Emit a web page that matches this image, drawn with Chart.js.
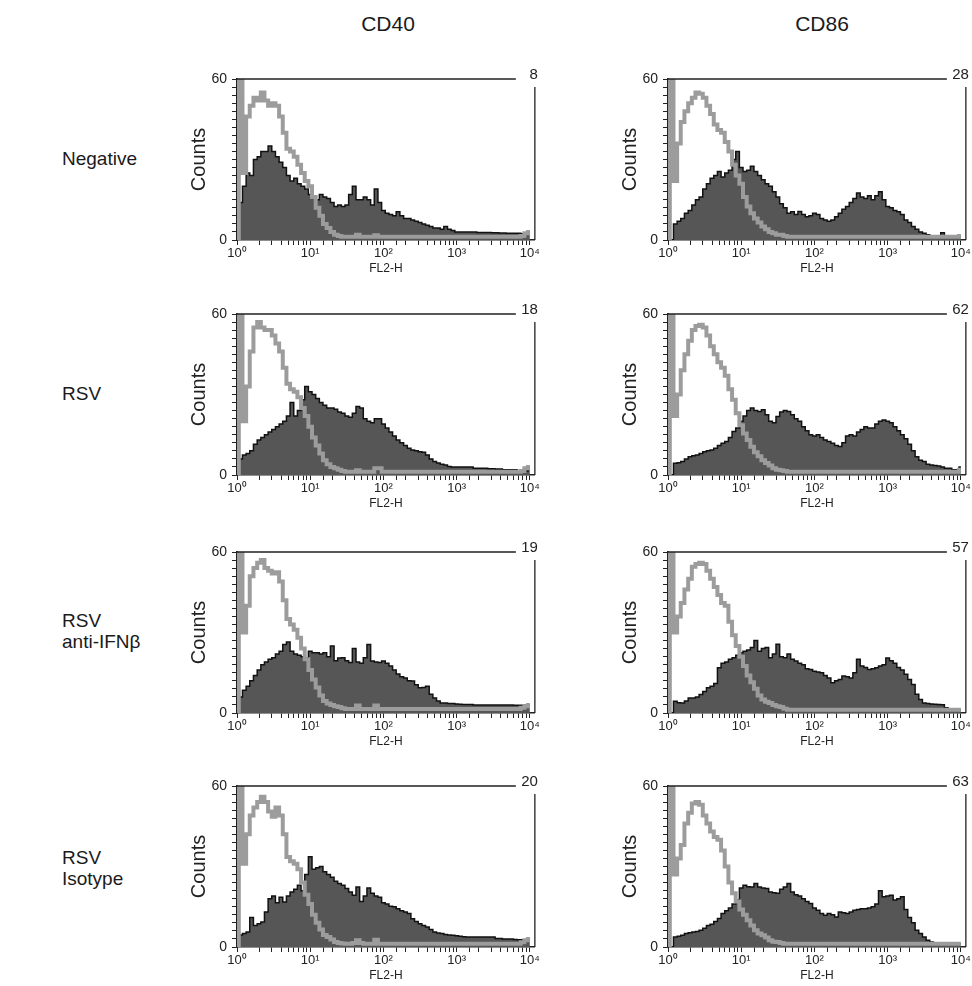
<!DOCTYPE html>
<html>
<head>
<meta charset="utf-8">
<script src="https://cdn.jsdelivr.net/npm/chart.js@4"></script>
<style>
  body { margin: 0; width: 972px; height: 986px; position: relative; overflow: hidden; background: #fff;
         font-family: "Liberation Sans", Arial, sans-serif; color: #1a1a1a; }
  .col { position: absolute; top: 12px; font-size: 21px; transform: translateX(-50%); }
  .row { position: absolute; left: 62px; font-size: 19px; line-height: 21px; }
  canvas { position: absolute; }
</style>
</head>
<body>
<div class="col" style="left:388px">CD40</div>
<div class="col" style="left:822px">CD86</div>

<div class="row" style="top:148px">Negative</div>
<div class="row" style="top:383px">RSV</div>
<div class="row" style="top:610px">RSV<br>anti-IFNβ</div>
<div class="row" style="top:847px">RSV<br>Isotype</div>

<canvas id="c40neg" width="361" height="216" style="left:180px;top:64px"></canvas>
<canvas id="c86neg" width="361" height="216" style="left:611px;top:64px"></canvas>
<canvas id="c40rsv" width="361" height="216" style="left:180px;top:299px"></canvas>
<canvas id="c86rsv" width="361" height="216" style="left:611px;top:299px"></canvas>
<canvas id="c40anti" width="361" height="216" style="left:180px;top:537px"></canvas>
<canvas id="c86anti" width="361" height="216" style="left:611px;top:537px"></canvas>
<canvas id="c40iso" width="361" height="216" style="left:180px;top:771px"></canvas>
<canvas id="c86iso" width="361" height="216" style="left:611px;top:771px"></canvas>

<script>
// FL2-H channel positions (shared by every histogram)
const channels = [
  1, 1.12, 1.26, 1.41, 1.58, 1.78, 2.0, 2.24, 2.51, 2.82,
  3.16, 3.55, 3.98, 4.47, 5.01, 5.62, 6.31, 7.08, 7.94, 8.91,
  10, 11.2, 12.6, 14.1, 15.8, 17.8, 20.0, 22.4, 25.1, 28.2,
  31.6, 35.5, 39.8, 44.7, 50.1, 56.2, 63.1, 70.8, 79.4, 89.1,
  100, 112, 126, 141, 158, 178, 200, 224, 251, 282,
  316, 355, 398, 447, 501, 562, 631, 708, 794, 891,
  1000, 1122, 1259, 1413, 1585, 1778, 1995, 2239, 2512, 2818,
  3162, 3548, 3981, 4467, 5012, 5623, 6310, 7079, 7943, 8913,
  10000
];
const decadeLabels = ["10⁰", "10¹", "10²", "10³", "10⁴"];
const percentCD40 = ["8", "18", "19", "20"];
const percentCD86 = ["28", "62", "57", "63"];

// CD40 - Negative
const ctrlCD40Neg = [
  0, 60, 25, 46, 50, 53, 52, 55, 52, 50,
  51, 50, 46, 40, 34, 33, 31, 28, 25, 22,
  20, 16, 12, 9, 6, 4.5, 3, 2, 1.5, 1.2,
  1.2, 1.2, 1.2, 2, 1.2, 1.2, 1.2, 1.2, 1.8, 1.2,
  1.2, 1.2, 1.2, 1.2, 1.2, 1.2, 1.2, 1.2, 1.2, 1.2,
  1.2, 1.2, 1.2, 1.2, 1.2, 1.2, 1.2, 1.2, 1.2, 1.2,
  1.2, 1.2, 1.2, 1.2, 1.2, 1.2, 1.2, 1.2, 1.2, 1.2,
  1.2, 1.2, 1.2, 1.2, 1.2, 1.2, 1.2, 1.2, 1.5, 2.5,
  3
];
const stainCD40Neg = [
  0, 14, 20, 25, 24, 30, 31, 33, 33, 35,
  33, 31, 29, 27, 24, 22, 23, 21, 20, 19,
  17, 16, 15, 17, 16, 15.5, 14, 12.5, 13, 12.5,
  13, 17, 20, 15, 15, 16, 15, 13, 19, 14,
  11, 10, 9.5, 9, 10.5, 9, 8, 8, 7.5, 7,
  6.5, 6, 5.5, 5, 4.5, 4.5, 4, 5, 4, 3.5,
  3, 3, 3, 3, 3, 3, 2.8, 2.8, 2.8, 2.8,
  2.7, 2.7, 2.6, 2.6, 2.5, 2.5, 2.5, 2.5, 2.3, 2.5,
  3
];

// CD86 - Negative
const ctrlCD86Neg = [
  0, 60, 22, 36, 44, 48, 51, 53, 55, 54.5,
  53, 50, 47, 43, 41, 40, 36.5, 33, 28, 24,
  21, 16, 12.5, 10, 8, 6.5, 5, 4, 3, 2.5,
  2, 2, 1.5, 1.2, 1.2, 1.2, 1.2, 1.2, 1.2, 1.2,
  1.2, 1.2, 1.2, 1.2, 1.2, 1.2, 1.2, 1.2, 1.2, 1.2,
  1.2, 1.2, 1.2, 1.2, 1.2, 1.2, 1.2, 1.2, 1.2, 1.2,
  1.2, 1.2, 1.2, 1.2, 1.2, 1.2, 1.2, 1.2, 1.2, 1.2,
  1.2, 1.2, 1.2, 1.2, 1.2, 1.2, 1.2, 1.2, 1.2, 1.2,
  1.5
];
const stainCD86Neg = [
  0, 0, 6, 7, 8, 10, 11, 13, 15, 16,
  19, 21, 23, 24, 25.5, 23.5, 25, 26, 30, 33,
  27, 25.5, 26, 27.5, 25.5, 24, 22.5, 21, 20, 18,
  16, 13.5, 12, 10, 10.5, 9.5, 10.6, 9.5, 8.7, 9,
  10, 9.5, 8, 7.5, 7, 7.5, 8.7, 10, 11.5, 12.5,
  14, 15.5, 17.5, 16, 15.5, 16.5, 15, 16.5, 18, 15,
  12.5, 12, 11, 10.5, 9.5, 7.5, 6.5, 5, 4, 3,
  2.5, 2, 1.5, 1.5, 1.5, 2.7, 1.5, 1.5, 1.5, 1.5,
  1.5
];

// CD40 - RSV
const ctrlCD40RSV = [
  0, 60, 20, 33, 46, 55, 57, 55, 54, 54,
  52, 49, 46, 40, 34, 32, 31, 29, 25, 22,
  18, 14, 11, 8, 5.5, 4, 3, 2.5, 2, 1.5,
  1.2, 1.2, 1.2, 1.8, 1.2, 1.2, 1.2, 1.2, 2.5, 2.5,
  1.2, 1.2, 1.2, 1.2, 1.2, 1.2, 1.2, 1.2, 1.2, 1.2,
  1.2, 1.2, 1.2, 1.2, 1.2, 1.2, 1.2, 1.2, 1.2, 1.2,
  1.2, 1.2, 1.2, 1.2, 1.2, 1.2, 1.2, 1.2, 1.2, 1.2,
  1.2, 1.2, 1.2, 1.2, 1.2, 1.2, 1.2, 1.2, 1.5, 2.5,
  3
];
const stainCD40RSV = [
  0, 6, 7.5, 8, 9, 11.5, 13, 14, 15, 16,
  17, 18, 19, 20, 22, 27, 22, 24, 28, 33,
  31, 30, 28.5, 27, 26, 25, 25, 24.5, 23.5, 23,
  22, 21.5, 23, 25.5, 25, 21, 20, 19.5, 21, 21,
  19, 17.5, 16, 14.5, 13, 12, 11, 10, 9.3, 9,
  8.7, 8.5, 7.5, 6, 5, 4.5, 4, 3.7, 3.2, 3,
  3, 3, 3, 3, 3, 2.5, 2.5, 2.5, 2.5, 2.3,
  2.3, 2.2, 2.2, 2, 2, 2, 2, 1.5, 1.3, 1.5,
  3
];

// CD86 - RSV
const ctrlCD86RSV = [
  0, 60, 22, 30, 39, 45, 50, 54, 55.5, 56,
  55, 52, 48, 45, 42, 40, 37, 32, 28, 23,
  18.5, 15.5, 13, 10.5, 8.5, 7, 5.5, 4.5, 3.5, 2.5,
  2, 1.8, 1.5, 1.2, 1.2, 1.2, 1.2, 1.2, 1.2, 1.2,
  1.2, 1.2, 1.2, 1.2, 1.2, 1.2, 1.2, 1.2, 1.2, 1.2,
  1.2, 1.2, 1.2, 1.2, 1.2, 1.2, 1.2, 1.2, 1.2, 1.2,
  1.2, 1.2, 1.2, 1.2, 1.2, 1.2, 1.2, 1.2, 1.2, 1.2,
  1.2, 1.2, 1.2, 1.2, 1.2, 1.2, 1.2, 1.2, 1.2, 1.2,
  2
];
const stainCD86RSV = [
  0, 0, 4.4, 4.6, 5, 6, 6.8, 7.2, 7.5, 8,
  8.7, 9, 9.3, 10, 11, 11.8, 12.5, 14, 16.2, 17.5,
  20, 22, 24, 25, 24, 23.7, 24.3, 22.5, 20, 19.5,
  21.8, 23.5, 24, 23.7, 22.5, 21, 20, 18, 16.5, 15,
  14.5, 15, 14, 13, 12.5, 11.8, 11, 10.6, 12, 14.5,
  15, 14.5, 16, 17, 18, 17.5, 17.5, 19, 20, 20.5,
  20, 19.5, 18, 16.5, 15, 13.5, 11.5, 9, 6.8, 5.5,
  5, 4, 3.7, 3.5, 3.4, 3, 2.5, 2.5, 2, 2,
  3
];

// CD40 - RSV anti-IFNb
const ctrlCD40Anti = [
  0, 60, 30, 40, 51, 54, 56, 57, 54, 53,
  52, 52.5, 49, 42, 35, 33, 31, 28, 24, 20,
  16, 12.5, 9.5, 6.5, 4.5, 3.5, 3, 2.5, 2.2, 1.8,
  1.5, 1.5, 1.5, 2.8, 1.5, 1.5, 1.5, 1.5, 2.8, 1.5,
  1.5, 1.5, 1.5, 1.5, 1.5, 1.5, 1.5, 1.5, 1.5, 1.5,
  1.5, 1.5, 1.5, 1.5, 1.5, 1.5, 1.5, 1.5, 1.5, 1.5,
  1.5, 1.5, 1.5, 1.5, 1.5, 1.5, 1.5, 1.5, 1.5, 1.5,
  1.5, 1.5, 1.5, 1.5, 1.5, 1.5, 1.5, 1.5, 2, 2.5,
  3
];
const stainCD40Anti = [
  0, 6, 8.5, 10, 12, 14, 16, 18, 19, 20,
  20.6, 22, 23, 25.5, 26.5, 23, 22, 21.5, 21, 20.6,
  23, 22.5, 22.5, 22, 22.5, 21, 25, 19.5, 20.5, 20.6,
  19.5, 18.8, 24, 19, 18.5, 20.6, 25.5, 19.4, 19, 18.8,
  19.4, 18.5, 17.5, 16, 14.5, 13.5, 13, 12, 11.9, 10.5,
  9.4, 9.5, 10, 7, 5.6, 4.5, 3.7, 3.7, 3.5, 3.5,
  3.4, 3.3, 3.2, 3.2, 3.2, 3, 3, 3, 3, 3,
  3, 3, 3, 3, 3, 3, 2.9, 2.9, 2.9, 2.9,
  3
];

// CD86 - RSV anti-IFNb
const ctrlCD86Anti = [
  0, 60, 30, 36, 41, 46, 50, 54.5, 55.5, 56,
  55.5, 53, 50, 47, 44, 41, 40, 34, 29, 25,
  21, 17.5, 14, 11.5, 9, 6.5, 5, 4.2, 3.7, 3,
  2.5, 2.2, 1.6, 1.2, 1.2, 1.2, 1.2, 1.2, 1.2, 1.2,
  1.2, 1.2, 1.2, 1.2, 1.2, 1.2, 1.2, 1.2, 1.2, 1.2,
  1.2, 1.2, 1.2, 1.2, 1.2, 1.2, 1.2, 1.2, 1.2, 1.2,
  1.2, 1.2, 1.2, 1.2, 1.2, 1.2, 1.2, 1.2, 1.2, 1.2,
  1.2, 1.2, 1.2, 1.2, 1.2, 1.2, 1.2, 1.2, 1.2, 1.2,
  1.2
];
const stainCD86Anti = [
  0, 0, 4.4, 3.8, 3.7, 4.5, 5.6, 5.6, 6, 6.9,
  8, 9.4, 10, 11, 16.9, 18.5, 19, 20, 20.6, 21.5,
  22.5, 23, 23.5, 24.4, 27, 23, 24, 24.4, 20.6, 22,
  25.6, 21, 20.6, 22, 20, 19.4, 18.5, 18, 16.5, 16.2,
  15.6, 15.3, 15, 14, 13, 11.3, 12, 12.5, 13.75, 13.5,
  13, 15, 20, 17.5, 17, 16.2, 16.5, 16.9, 17.5, 18,
  20.5, 19.5, 18.5, 17, 16, 14.4, 12.5, 10.6, 7, 5,
  3.7, 3.5, 3.4, 3.3, 3.2, 3.1, 2, 1.2, 1.2, 1.2,
  1.2
];

// CD40 - RSV Isotype
const ctrlCD40Iso = [
  0, 60, 31, 42, 49, 52, 54, 56, 54, 50.5,
  48.5, 52, 49, 42, 33.5, 32, 31, 29, 24, 19.5,
  16, 12, 9, 6.5, 4.5, 3.7, 2.8, 1.9, 1.5, 1.3,
  1.2, 1.2, 1.5, 2.5, 1.5, 1.2, 1.2, 1.2, 2.7, 1.2,
  1.2, 1.2, 1.2, 1.2, 1.2, 1.2, 1.2, 1.2, 1.2, 1.2,
  1.2, 1.2, 1.2, 1.2, 1.2, 1.2, 1.2, 1.2, 1.2, 1.2,
  1.2, 1.2, 1.2, 1.2, 1.2, 1.2, 1.2, 1.2, 1.2, 1.2,
  1.2, 1.2, 1.2, 1.2, 1.2, 1.2, 1.2, 1.2, 1.8, 2.5,
  3
];
const stainCD40Iso = [
  0, 4.5, 5, 5.6, 11, 8, 8.7, 9.3, 13, 18,
  19, 16.5, 18.5, 16.8, 19, 20.5, 21.5, 23, 21, 27,
  33.6, 29, 29.5, 30, 28, 27, 26, 24.5, 23.7, 23,
  21.8, 20.5, 19.3, 22.4, 17, 19, 22, 20, 19, 18.5,
  16.5, 16, 15.2, 15, 14.3, 13.5, 13, 12.5, 10.5, 9.5,
  8.7, 8, 7.5, 6.5, 5.6, 5.2, 5, 4.7, 4.5, 4.4,
  4.2, 4, 3.8, 3.7, 3.7, 3.7, 3.7, 3.7, 3.7, 3.7,
  3.7, 3.2, 3.2, 3, 3, 3, 2.8, 2.7, 2.7, 2.7,
  3
];

// CD86 - RSV Isotype
const ctrlCD86Iso = [
  0, 60, 27, 33, 38, 46, 50, 53.5, 54, 53,
  49, 46, 43, 41, 40, 36, 30, 24, 20, 17,
  14, 12, 10, 8, 6.2, 5, 4.4, 3.5, 2.5, 2,
  1.9, 1.5, 1.2, 1.2, 1.2, 1.2, 1.2, 1.2, 1.2, 1.2,
  1.2, 1.2, 1.2, 1.2, 1.2, 1.2, 1.2, 1.2, 1.2, 1.2,
  1.2, 1.2, 1.2, 1.2, 1.2, 1.2, 1.2, 1.2, 1.2, 1.2,
  1.2, 1.2, 1.2, 1.2, 1.2, 1.2, 1.2, 1.2, 1.2, 1.2,
  1.2, 1.2, 1.2, 1.2, 1.2, 1.2, 1.2, 1.2, 1.2, 1.2,
  1.2
];
const stainCD86Iso = [
  0, 0, 3.7, 4, 4.4, 5, 5.3, 5.6, 5.8, 6.2,
  7, 8, 8.5, 9.5, 10.6, 12.5, 13.5, 14.5, 16, 17.5,
  22, 23, 22.5, 22.4, 23.7, 22.4, 22, 21.8, 20.5, 20.2,
  20, 21.5, 22.4, 23.7, 20.5, 19.5, 19, 18, 17, 16.2,
  14.5, 13.7, 12.5, 11.8, 12.5, 12, 11.2, 13, 12.8, 12.5,
  13, 13.7, 14, 14.3, 14.3, 14.5, 15, 16, 21, 18.7,
  19, 19.3, 17.5, 18, 18.7, 14, 11, 9, 6.2, 5,
  3.7, 2.5, 1.9, 1.2, 1.2, 1.2, 1.2, 1.2, 1.2, 1.2,
  1.2
];

Chart.defaults.font.family = '"Liberation Sans", Arial, sans-serif';
Chart.defaults.color = "#222";

// top rule, right rule and percentage number of each FACS panel
const framePlugin = {
  id: "frame",
  afterDraw(chart, args, opts) {
    const { ctx, chartArea: { left, top, right, bottom } } = chart;
    ctx.save();
    ctx.strokeStyle = "#222";
    ctx.lineWidth = 1.3;
    ctx.beginPath();
    ctx.moveTo(left, top);
    ctx.lineTo(right - 19, top);
    ctx.moveTo(right, top + 8);
    ctx.lineTo(right, bottom);
    ctx.stroke();
    ctx.fillStyle = "#222";
    ctx.font = '15px "Liberation Sans", Arial, sans-serif';
    ctx.textAlign = "right";
    ctx.textBaseline = "alphabetic";
    ctx.fillText(opts.label, right + 3, top);
    ctx.restore();
  }
};

function toPoints(values) {
  return values.map((y, i) => ({ x: channels[i], y }));
}

function makePanel(id, ctrl, stain, label) {
  const ctx = document.getElementById(id).getContext("2d");
  return new Chart(ctx, {
    type: "line",
    data: {
      datasets: [
        {
          data: toPoints(ctrl),
          borderColor: "#9c9c9c",
          borderWidth: 4,
          borderJoinStyle: "miter",
          stepped: "middle",
          pointRadius: 0,
          fill: false,
        },
        {
          data: toPoints(stain),
          borderColor: "#111",
          borderWidth: 1.5,
          backgroundColor: "#565656",
          stepped: "middle",
          pointRadius: 0,
          fill: "origin",
        },
      ],
    },
    options: {
      responsive: false,
      animation: false,
      events: [],
      layout: { padding: { top: 15, right: 6, left: 0, bottom: 0 } },
      plugins: { legend: { display: false }, tooltip: { enabled: false }, frame: { label } },
      scales: {
        x: {
          type: "logarithmic",
          min: 1,
          max: 11700,
          afterFit: s => { s.height = 40; },
          afterBuildTicks: s => { s.ticks = s.ticks.filter(t => t.value <= 10000); },
          ticks: {
            autoSkip: false,
            minRotation: 0,
            maxRotation: 0,
            padding: 1,
            font: { size: 13 },
            callback: v => {
              const e = Math.round(Math.log10(v));
              return Math.abs(Math.log10(v) - e) < 1e-6 ? decadeLabels[e] : "";
            },
          },
          grid: { drawOnChartArea: false, tickLength: 5, color: "#222" },
          border: { color: "#222", width: 1.5 },
          title: { display: true, text: "FL2-H", font: { size: 12 }, padding: { top: 0, bottom: 4 } },
        },
        y: {
          min: 0,
          max: 60,
          afterFit: s => { s.width = 57; },
          ticks: {
            stepSize: 3,
            maxTicksLimit: 30,
            autoSkip: false,
            padding: 5,
            font: { size: 14 },
            callback: v => (v === 0 || v === 60 ? String(v) : ""),
          },
          grid: { drawOnChartArea: false, tickLength: 5, color: "#222" },
          border: { color: "#222", width: 1.8 },
          title: { display: true, text: "Counts", font: { size: 20 }, padding: { top: 7, bottom: 0 } },
        },
      },
    },
    plugins: [framePlugin],
  });
}

makePanel("c40neg", ctrlCD40Neg, stainCD40Neg, percentCD40[0]);
makePanel("c86neg", ctrlCD86Neg, stainCD86Neg, percentCD86[0]);
makePanel("c40rsv", ctrlCD40RSV, stainCD40RSV, percentCD40[1]);
makePanel("c86rsv", ctrlCD86RSV, stainCD86RSV, percentCD86[1]);
makePanel("c40anti", ctrlCD40Anti, stainCD40Anti, percentCD40[2]);
makePanel("c86anti", ctrlCD86Anti, stainCD86Anti, percentCD86[2]);
makePanel("c40iso", ctrlCD40Iso, stainCD40Iso, percentCD40[3]);
makePanel("c86iso", ctrlCD86Iso, stainCD86Iso, percentCD86[3]);
</script>
</body>
</html>
